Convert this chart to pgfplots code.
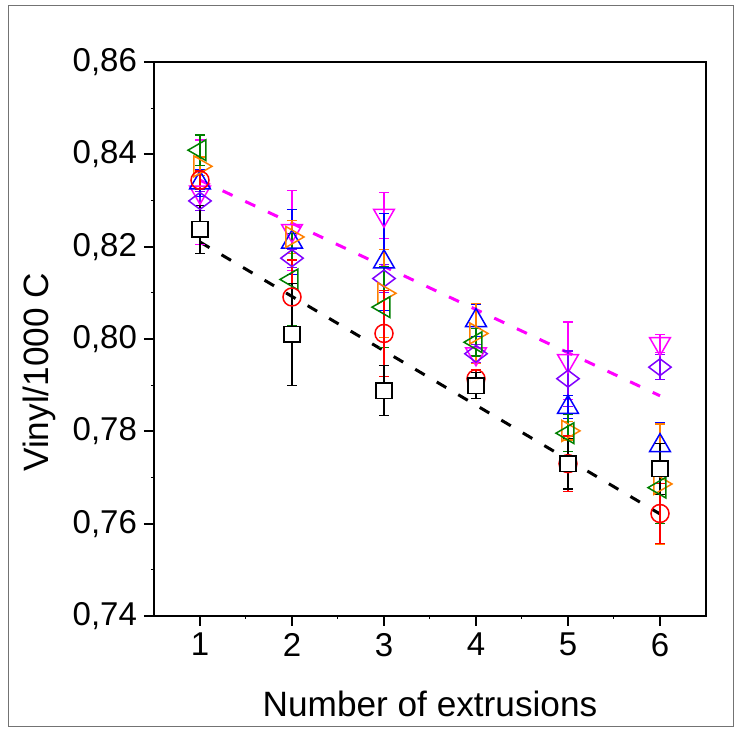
\documentclass[border=0pt]{standalone}
\usepackage{pgfplots}
\pgfplotsset{compat=1.18}
\usepackage{pgfplotstable}
\usepackage{fontspec}
\setmainfont{Liberation Sans}
\definecolor{cgreen}{HTML}{008000}
\definecolor{corange}{HTML}{FF8000}
\definecolor{cviolet}{HTML}{8000FF}
\definecolor{cmag}{HTML}{FF00FF}

\pgfplotstableread{
x y e
1 0.8238 0.0052
2 0.8010 0.0110
3 0.7888 0.0054
4 0.7899 0.0028
5 0.7730 0.0055
6 0.7719 0.0055
}\blacksq
\pgfplotstableread{
x y e
1 0.8344 0.0020
2 0.8091 0.0080
3 0.8012 0.0093
4 0.7914 0.0020
5 0.7730 0.0060
6 0.7622 0.0065
}\redci
\pgfplotstableread{
x y e
1 0.8409 0.0033
2 0.8129 0.0100
3 0.8069 0.0087
4 0.7993 0.0030
5 0.7796 0.0040
6 0.7678 0.0078
}\greentri
\pgfplotstableread{
x y e
1 0.8374 0.0020
2 0.8221 0.0035
3 0.8099 0.0095
4 0.8012 0.0065
5 0.7801 0.0020
6 0.7686 0.0130
}\orangetri
\pgfplotstableread{
x y e
1 0.8338 0.0030
2 0.8210 0.0070
3 0.8167 0.0105
4 0.8040 0.0035
5 0.7852 0.0025
6 0.7769 0.0050
}\bluetri
\pgfplotstableread{
x y e
1 0.8318 0.0113
2 0.8235 0.0087
3 0.8268 0.0050
4 0.7968 0.0020
5 0.7953 0.0084
6 0.7990 0.0020
}\magtri
\pgfplotstableread{
x y e
1 0.8299 0.0020
2 0.8175 0.0020
3 0.8131 0.0030
4 0.7968 0.0020
5 0.7914 0.0060
6 0.7939 0.0027
}\violetdia

\begin{document}
\begin{tikzpicture}[x=1pt,y=1pt]
\useasboundingbox (0,0) rectangle (370,366.5);
\draw[black!55, line width=0.5pt] (4,3) rectangle (366.5,363.5);
\begin{axis}[
  at={(77pt,58.5pt)}, anchor=south west,
  scale only axis, width=276pt, height=277pt,
  xmin=0.5, xmax=6.5, ymin=0.74, ymax=0.86,
  xtick={1,2,3,4,5,6},
  ytick={0.74,0.76,0.78,0.80,0.82,0.84,0.86},
  minor x tick num=1, minor y tick num=1,
  xtick pos=bottom, ytick pos=left,
  tick align=outside,
  major tick length=5pt, minor tick length=1.5pt,
  axis line style={line width=1pt},
  every tick/.style={black, line width=0.9pt},
  minor tick style={line width=0.5pt},
  /pgf/number format/assume math mode=true,
  yticklabel style={/pgf/number format/.cd, fixed, fixed zerofill, precision=2, use comma},
  ticklabel style={font=\fontsize{16.5}{18}\selectfont},
  xlabel={Number of extrusions},
  ylabel={Vinyl/1000 C},
  label style={font=\fontsize{17.6}{20}\selectfont},
  ylabel style={at={(axis description cs:-0.207,0.44)}, anchor=center},
  xlabel style={at={(axis description cs:0.5,-0.159)}, anchor=center},
  clip=false,
  error bars/error bar style={line width=0.6pt},
  error bars/error mark options={line width=0.6pt, mark size=2.5pt, rotate=90},
]
% fit lines
\addplot[cmag, line width=1.5pt, dash pattern=on 5.5pt off 7pt] coordinates {(1,0.8344) (6,0.7877)};
\addplot[black, line width=1.5pt, dash pattern=on 5.5pt off 7pt] coordinates {(1,0.8210) (6,0.7621)};
% series
\addplot[cmag, only marks, mark=triangle, mark size=6pt, mark options={rotate=180, line width=0.75pt},
  error bars/.cd, y dir=both, y explicit] table[x=x, y=y, y error=e] {\magtri};
\addplot[cviolet, only marks, mark=diamond, mark size=5.6pt, mark options={rotate=90, line width=0.75pt},
  error bars/.cd, y dir=both, y explicit] table[x=x, y=y, y error=e] {\violetdia};
\addplot[blue, only marks, mark=triangle, mark size=6pt, mark options={line width=0.75pt},
  error bars/.cd, y dir=both, y explicit] table[x=x, y=y, y error=e] {\bluetri};
\addplot[corange, only marks, mark=triangle, mark size=6pt, mark options={rotate=-90, line width=0.75pt},
  error bars/.cd, y dir=both, y explicit] table[x=x, y=y, y error=e] {\orangetri};
\addplot[cgreen, only marks, mark=triangle, mark size=6pt, mark options={rotate=90, line width=0.75pt},
  error bars/.cd, y dir=both, y explicit] table[x=x, y=y, y error=e] {\greentri};
\addplot[red, only marks, mark=o, mark size=4.5pt, mark options={line width=0.75pt},
  error bars/.cd, y dir=both, y explicit] table[x=x, y=y, y error=e] {\redci};
\addplot[black, only marks, mark=square*, mark size=3.9pt, mark options={fill=white, line width=0.75pt},
  error bars/.cd, y dir=both, y explicit] table[x=x, y=y, y error=e] {\blacksq};
\end{axis}
\end{tikzpicture}
\end{document}
